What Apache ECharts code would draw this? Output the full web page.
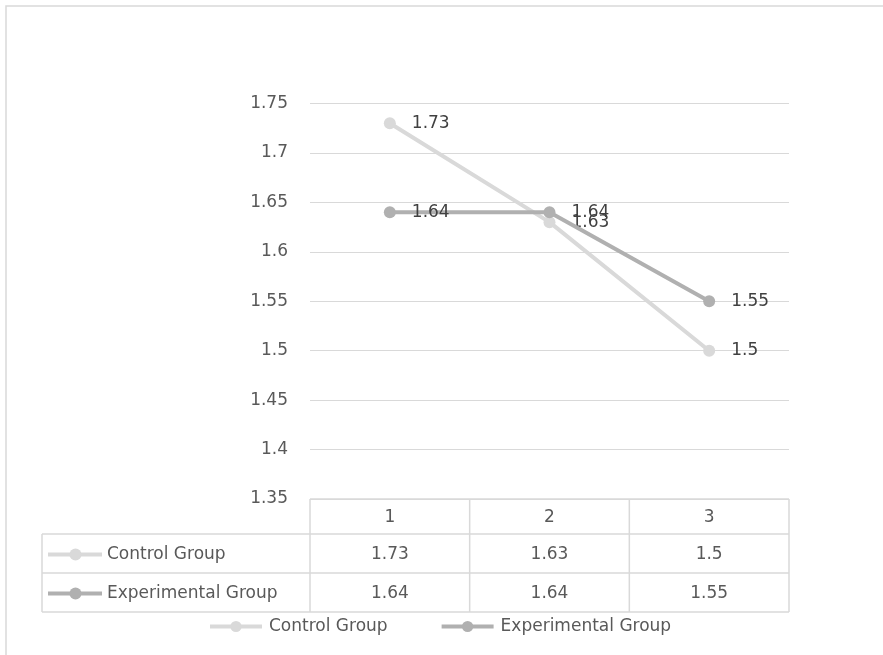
<!DOCTYPE html>
<html>
<head>
<meta charset="utf-8">
<script src="https://cdn.jsdelivr.net/npm/echarts@6/dist/echarts.min.js"></script>
<style>
html,body{margin:0;padding:0;background:#fff;}
#chart{width:883px;height:655px;}
</style>
</head>
<body>
<div id="chart"></div>
<script>
const categories = ['1', '2', '3'];
const seriesNames = ['Control Group', 'Experimental Group'];
const controlValues = [1.73, 1.63, 1.5];
const experimentalValues = [1.64, 1.64, 1.55];
const yMin = 1.35, yMax = 1.75, yInterval = 0.05;
const seriesColors = ['#d9d9d9', '#b0b0b0'];

const FONT = 'DejaVu Sans';
const FS = 17;
const AXIS_COLOR = '#595959';
const LABEL_COLOR = '#404040';
const BORDER = '#d9d9d9';

const chart = echarts.init(document.getElementById('chart'), null, {renderer: 'canvas'});

const grid = {left: 310, right: 94, top: 103.5, bottom: 156};

function lineSeries(name, data, color, z) {
  return {
    name: name, type: 'line', data: data, z: z,
    symbol: 'circle', symbolSize: 12,
    itemStyle: {color: color},
    lineStyle: {color: color, width: 4},
    label: {show: true, position: 'right', distance: 16, color: LABEL_COLOR,
            fontFamily: FONT, fontSize: FS},
    emphasis: {disabled: true},
    animation: false
  };
}

const option = {
  animation: false,
  textStyle: {fontFamily: FONT},
  grid: grid,
  xAxis: {
    type: 'category', data: categories, boundaryGap: true,
    axisLine: {show: false}, axisTick: {show: false}, axisLabel: {show: false},
    splitLine: {show: false}
  },
  yAxis: {
    type: 'value', min: yMin, max: yMax, interval: yInterval,
    axisLine: {show: false}, axisTick: {show: false},
    axisLabel: {color: AXIS_COLOR, fontSize: FS, fontFamily: FONT, margin: 22},
    splitLine: {lineStyle: {color: BORDER, width: 1}}
  },
  legend: {
    data: seriesNames, left: 203, top: 613, itemWidth: 52, itemHeight: 14, itemGap: 52,
    lineStyle: {width: 4},
    textStyle: {color: AXIS_COLOR, fontSize: FS, fontFamily: FONT, padding: [0, 0, 0, 2]},
    selectedMode: false
  },
  series: [
    lineSeries(seriesNames[0], controlValues, seriesColors[0], 2),
    lineSeries(seriesNames[1], experimentalValues, seriesColors[1], 3)
  ]
};
chart.setOption(option);

// Data table built from the same arrays, positioned using the axis scale
const plotLeft = grid.left;
const plotRight = 883 - grid.right;
const tableTop = chart.convertToPixel({yAxisIndex: 0}, yMin);
const step = (plotRight - plotLeft) / categories.length;
const tableLeft = 42;
const rowBounds = [tableTop, tableTop + 35, tableTop + 74, tableTop + 113];
const graphics = [];
function hline(x1, x2, y) {
  graphics.push({type: 'line', shape: {x1: x1, y1: y, x2: x2, y2: y},
    style: {stroke: BORDER, lineWidth: 1.5}, silent: true});
}
function vline(x, y1, y2) {
  graphics.push({type: 'line', shape: {x1: x, y1: y1, x2: x, y2: y2},
    style: {stroke: BORDER, lineWidth: 1.5}, silent: true});
}
function text(str, x, y, align) {
  graphics.push({type: 'text', x: x, y: y, silent: true,
    style: {text: str, fill: AXIS_COLOR, font: FS + 'px "' + FONT + '"',
      align: align, verticalAlign: 'middle'}});
}
// outer frame
graphics.push({type: 'rect', shape: {x: 6, y: 6, width: 1000, height: 1000},
  style: {fill: 'none', stroke: BORDER, lineWidth: 1.5}, silent: true});

hline(plotLeft, plotRight, rowBounds[0]);
hline(tableLeft, plotRight, rowBounds[1]);
hline(tableLeft, plotRight, rowBounds[2]);
hline(tableLeft, plotRight, rowBounds[3]);
vline(tableLeft, rowBounds[1], rowBounds[3]);
for (let i = 0; i <= categories.length; i++) {
  vline(plotLeft + i * step, rowBounds[0], rowBounds[3]);
}
categories.forEach((c, i) => {
  const cx = chart.convertToPixel({xAxisIndex: 0}, i);
  text(c, cx, (rowBounds[0] + rowBounds[1]) / 2 + 1, 'center');
  text(String(controlValues[i]), cx, (rowBounds[1] + rowBounds[2]) / 2 + 1, 'center');
  text(String(experimentalValues[i]), cx, (rowBounds[2] + rowBounds[3]) / 2 + 1, 'center');
});
[seriesNames[0], seriesNames[1]].forEach((name, r) => {
  const cy = (rowBounds[r + 1] + rowBounds[r + 2]) / 2 + 1;
  graphics.push({type: 'line', shape: {x1: 48, y1: cy, x2: 102, y2: cy},
    style: {stroke: seriesColors[r], lineWidth: 4}, silent: true});
  graphics.push({type: 'circle', shape: {cx: 75.5, cy: cy, r: 6},
    style: {fill: seriesColors[r]}, silent: true});
  text(name, 107, cy, 'left');
});
chart.setOption({graphic: graphics});
</script>
</body>
</html>
